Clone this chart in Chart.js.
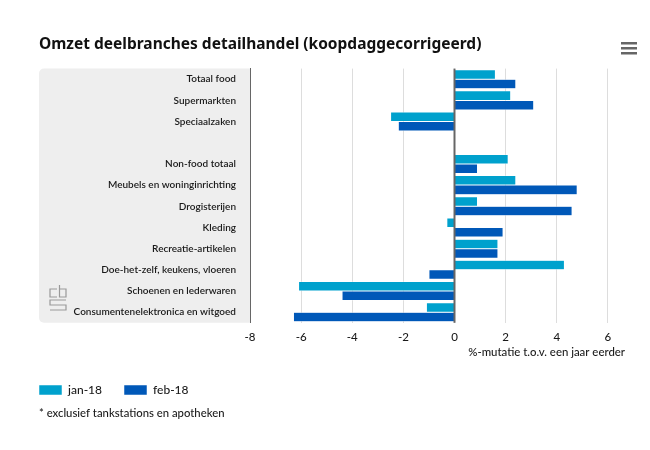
<!DOCTYPE html>
<html>
<head>
<meta charset="utf-8">
<title>Omzet deelbranches detailhandel</title>
<script src="https://cdn.jsdelivr.net/npm/chart.js@4"></script>
<style>
    body { margin: 0; background: #fff; }
    canvas { display: block; }
</style>
</head>
<body>
<canvas id="chart" width="650" height="450"></canvas>
<script>
const categories = ["Totaal food", "Supermarkten", "Speciaalzaken", "", "Non-food totaal", "Meubels en woninginrichting", "Drogisterijen", "Kleding", "Recreatie-artikelen", "Doe-het-zelf, keukens, vloeren", "Schoenen en lederwaren", "Consumentenelektronica en witgoed"];
const jan18 = [1.6, 2.2, -2.5, null, 2.1, 2.4, 0.9, -0.3, 1.7, 4.3, -6.1, -1.1];
const feb18 = [2.4, 3.1, -2.2, null, 0.9, 4.8, 4.6, 1.9, 1.7, -1.0, -4.4, -6.3];
const seriesNames = ["jan-18", "feb-18"];
const titleText = "Omzet deelbranches detailhandel (koopdaggecorrigeerd)";
const axisTitle = "%-mutatie t.o.v. een jaar eerder";
const footnote = "* exclusief tankstations en apotheken";

const textColor = "#1a1a1a";
const labelFont = "Lato, sans-serif";
const legendGap = 22;

// Grey panel behind the labels, hamburger icon, cbs logo and footnote
const decorations = {
    id: "decorations",
    afterLayout(chart) {
        // legend starts flush with the panel instead of one padding in
        chart.legend.left -= legendGap;
    },
    beforeDraw(chart) {
        const { ctx, chartArea } = chart;
        ctx.save();
        ctx.fillStyle = "#eeeeee";
        ctx.beginPath();
        ctx.roundRect(39, chartArea.top, chartArea.left - 39, chartArea.bottom - chartArea.top, [5, 0, 0, 5]);
        ctx.fill();

        ctx.fillStyle = "#666666";
        [42, 47, 52].forEach(y => ctx.fillRect(621, y, 16, 2.5));

        ctx.strokeStyle = "#999999";
        ctx.lineWidth = 1.2;
        ctx.beginPath();
        ctx.moveTo(57, 289); ctx.lineTo(50, 289); ctx.lineTo(50, 297); ctx.lineTo(57, 297);
        ctx.moveTo(59.5, 285); ctx.lineTo(59.5, 297); ctx.lineTo(66, 297); ctx.lineTo(66, 289); ctx.lineTo(59.5, 289);
        ctx.moveTo(66, 300); ctx.lineTo(50, 300); ctx.lineTo(50, 305); ctx.lineTo(66, 305); ctx.lineTo(66, 310); ctx.lineTo(50, 310);
        ctx.stroke();

        ctx.fillStyle = textColor;
        ctx.font = "500 11.3px " + labelFont;
        ctx.textBaseline = "middle";
        ctx.fillText(footnote, 39, 413);
        ctx.restore();
    },
    afterDatasetsDraw(chart) {
        const { ctx, chartArea, scales } = chart;
        const zero = scales.x.getPixelForValue(0);
        ctx.save();
        ctx.strokeStyle = "#666666";
        ctx.lineWidth = 2;
        ctx.beginPath();
        ctx.moveTo(zero, chartArea.top);
        ctx.lineTo(zero, chartArea.bottom);
        ctx.stroke();
        ctx.restore();
    }
};

new Chart(document.getElementById("chart").getContext("2d"), {
    type: "bar",
    data: {
        labels: categories,
        datasets: [
            { label: seriesNames[0], data: jan18, backgroundColor: "#00a1cd", borderColor: "#ffffff", borderWidth: 0.5 },
            { label: seriesNames[1], data: feb18, backgroundColor: "#0058b8", borderColor: "#ffffff", borderWidth: 0.5 }
        ]
    },
    plugins: [decorations],
    options: {
        indexAxis: "y",
        responsive: false,
        animation: false,
        layout: { padding: { left: 39, right: 25, top: 35, bottom: 44 } },
        datasets: { bar: { categoryPercentage: 0.9, barPercentage: 1 } },
        scales: {
            x: {
                min: -8,
                max: 6.67,
                ticks: { stepSize: 2, includeBounds: false, color: textColor, font: { family: labelFont, size: 11.5, weight: "500" }, padding: 8, maxRotation: 0 },
                grid: { color: "#dddddd", drawTicks: false },
                border: { display: false },
                title: { display: true, text: axisTitle, align: "end", color: textColor, font: { family: labelFont, size: 11.4, weight: "500", lineHeight: 1 }, padding: { top: -6, bottom: 4 } }
            },
            y: {
                afterFit(scale) { scale.width = 211; },
                ticks: { color: textColor, font: { family: labelFont, size: 10, weight: "600" }, padding: 14, autoSkip: false },
                grid: { display: false, drawTicks: false },
                border: { display: true, color: "#666666", width: 1 }
            }
        },
        plugins: {
            title: { display: true, text: titleText, align: "start", color: "#111111", font: { family: "'Noto Sans', sans-serif", size: 15.5, weight: "bold" }, padding: { top: 0, bottom: 15 } },
            legend: {
                position: "bottom",
                align: "start",
                labels: { boxWidth: 23, boxHeight: 10, padding: legendGap, color: textColor, font: { family: labelFont, size: 12, weight: "500" } }
            },
            tooltip: { enabled: false }
        }
    }
});
</script>
</body>
</html>
